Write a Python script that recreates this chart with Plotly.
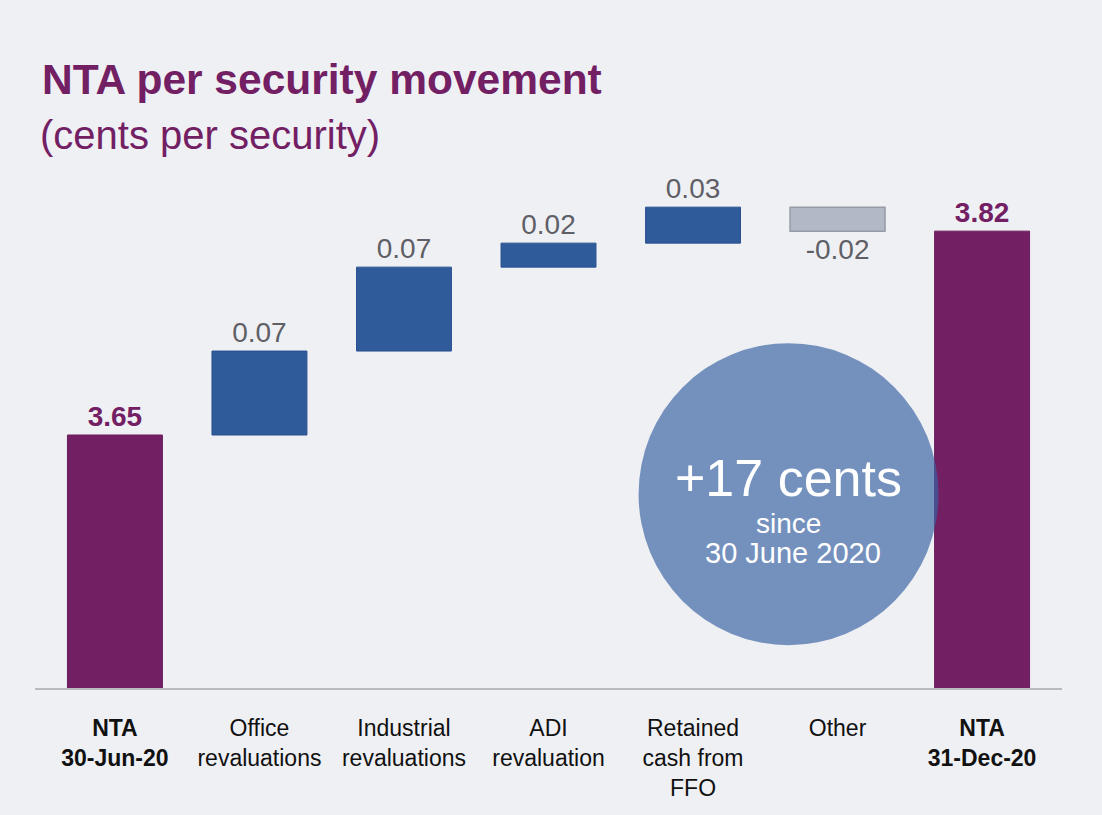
import plotly.graph_objects as go

categories = ["<b>NTA</b><br><b>30-Jun-20</b>", "Office<br>revaluations", "Industrial<br>revaluations",
              "ADI<br>revaluation", "Retained<br>cash from<br>FFO", "Other", "<b>NTA</b><br><b>31-Dec-20</b>"]
values = [3.65, 0.07, 0.07, 0.02, 0.03, -0.02, 3.82]
measures = ["absolute", "relative", "relative", "relative", "relative", "relative", "total"]
labels = ["<b>3.65</b>", "0.07", "0.07", "0.02", "0.03", "-0.02", "<b>3.82</b>"]
label_colors = ["#722063", "#5f5f66", "#5f5f66", "#5f5f66", "#5f5f66", "#5f5f66", "#722063"]
y_range = [3.439, 3.871]

FONT = "Liberation Sans, Arial, sans-serif"
PURPLE = "#722063"
BLUE = "#2f5b9b"
GREY = "#b1b8c6"
BG = "#eff0f4"

fig = go.Figure(go.Waterfall(
    x=categories, y=values, measure=measures,
    text=labels, textposition="outside", cliponaxis=False,
    textfont=dict(family=FONT, size=28, color=label_colors),
    increasing=dict(marker=dict(color=BLUE, line=dict(color="#2a5190", width=1))),
    decreasing=dict(marker=dict(color=GREY, line=dict(color="#969ba6", width=1.5))),
    totals=dict(marker=dict(color=PURPLE, line=dict(color="#6a1d5c", width=1))),
    connector=dict(visible=False),
    width=[0.657] * 7,
    hoverinfo="skip",
))

fig.update_layout(
    width=1102, height=815,
    margin=dict(l=35, r=40, t=170, b=127),
    paper_bgcolor=BG, plot_bgcolor=BG,
    showlegend=False,
    font=dict(family=FONT, color="#111111"),
    xaxis=dict(range=[-0.553, 6.553], showline=True, linecolor="#b9b9c0", linewidth=1.5,
               showgrid=False, zeroline=False, ticks="", ticklabelstandoff=19,
               tickfont=dict(family=FONT, size=23, color="#111111"), fixedrange=True),
    yaxis=dict(range=y_range, visible=False, showgrid=False, zeroline=False, fixedrange=True),
    annotations=[
        dict(text="<b>NTA per security movement</b>", xref="paper", yref="paper",
             x=(40 - 35) / 1027, y=(688 - 80) / 518, xanchor="left", yanchor="middle",
             showarrow=False, font=dict(family=FONT, size=42.5, color=PURPLE)),
        dict(text="(cents per security)", xref="paper", yref="paper",
             x=(38 - 35) / 1027, y=(688 - 135) / 518, xanchor="left", yanchor="middle",
             showarrow=False, font=dict(family=FONT, size=40, color=PURPLE)),
        dict(text="+17 cents", xref="x", yref="y", x=4.661, y=3.439 + (688 - 478) / 1200,
             showarrow=False, font=dict(family=FONT, size=52, color="white")),
        dict(text="since", xref="x", yref="y", x=4.661, y=3.439 + (688 - 523) / 1200,
             showarrow=False, font=dict(family=FONT, size=28, color="white")),
        dict(text="30 June 2020", xref="x", yref="y", x=4.69, y=3.439 + (688 - 553) / 1200,
             showarrow=False, font=dict(family=FONT, size=29, color="white")),
    ],
    shapes=[
        dict(type="circle", layer="above", xref="x", yref="y",
             xsizemode="pixel", ysizemode="pixel",
             xanchor=4.661, yanchor=3.439 + (688 - 494) / 1200,
             x0=-150, x1=150, y0=-151, y1=151,
             fillcolor="rgba(55,99,162,0.67)", line=dict(width=0)),
    ],
)

fig.write_html("out.html")
